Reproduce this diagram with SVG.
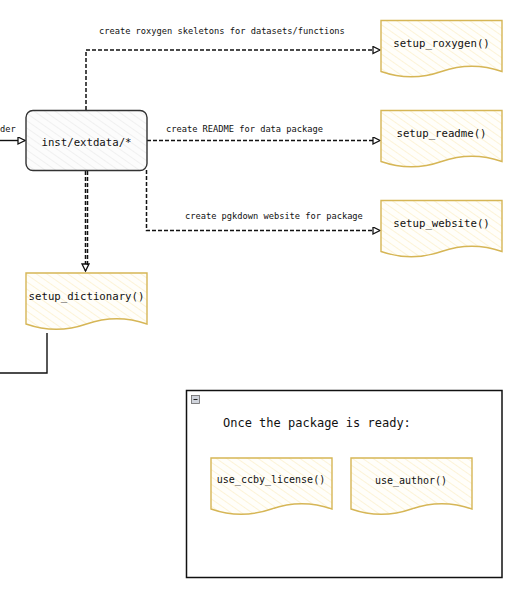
<svg xmlns="http://www.w3.org/2000/svg" width="532" height="615" viewBox="0 0 532 615">
<style>
text{font-family:"DejaVu Sans Mono","Liberation Mono",monospace;fill:#111}
.lbl{font-size:8.7px}
.nt{font-size:10.7px;text-anchor:middle}
.sm{font-size:10px;text-anchor:middle}
.doc{fill:url(#hy);stroke:#d6b656;stroke-width:1.4}
.dash{fill:none;stroke:#111;stroke-width:1.5;stroke-dasharray:4 2}
.solid{fill:none;stroke:#111;stroke-width:1.4}
</style>
<defs>
<pattern id="hy" width="6" height="6" patternUnits="userSpaceOnUse" patternTransform="rotate(-55)">
<rect width="6" height="6" fill="#fffefa"/>
<line x1="0" y1="0" x2="0" y2="6" stroke="#faecc0" stroke-width="1.2"/>
</pattern>
<pattern id="hg" width="6" height="6" patternUnits="userSpaceOnUse" patternTransform="rotate(-55)">
<rect width="6" height="6" fill="#fcfcfc"/>
<line x1="0" y1="0" x2="0" y2="6" stroke="#e4e4e4" stroke-width="1"/>
</pattern>
<marker id="ar" markerWidth="10" markerHeight="10" refX="8" refY="4" orient="auto" markerUnits="userSpaceOnUse">
<path d="M1,0.5 L8,4 L1,7.5 Z" fill="#fff" stroke="#111" stroke-width="1.3" stroke-dasharray="none"/>
</marker>
</defs>

<g id="connectors">
<path class="solid" d="M0,140.5 H25" marker-end="url(#ar)"/>
<text class="lbl" x="0" y="132">der</text>
<path class="dash" d="M86,110 V50 H380" marker-end="url(#ar)"/>
<text class="lbl" x="99" y="34">create roxygen skeletons for datasets/functions</text>
<path class="dash" d="M147,140.5 H380" marker-end="url(#ar)"/>
<text class="lbl" x="166" y="132">create README for data package</text>
<path class="dash" d="M146.5,170 V230.5 H380" marker-end="url(#ar)"/>
<text class="lbl" x="185" y="219">create pgkdown website for package</text>
<path class="dash" d="M85.5,171 V271" marker-end="url(#ar)"/>
<path class="dash" d="M87.5,171 V266" stroke-width="1"/>
<path class="solid" d="M47,333 V373 H0"/>
</g>

<g id="inst-extdata">
<rect x="26" y="110.5" width="121" height="60" rx="7" fill="url(#hg)" stroke="#333" stroke-width="1.4"/>
<text class="nt" x="86.5" y="146">inst/extdata/*</text>
</g>

<g id="setup-roxygen">
<path class="doc" d="M381,20.5 H502 V71.5 Q471.75,61 441.5,71.5 Q411.25,82 381,71.5 Z"/>
<text class="nt" x="441.5" y="47">setup_roxygen()</text>
</g>

<g id="setup-readme">
<path class="doc" d="M381,110.5 H502 V161.5 Q471.75,151 441.5,161.5 Q411.25,172 381,161.5 Z"/>
<text class="nt" x="441.5" y="137">setup_readme()</text>
</g>

<g id="setup-website">
<path class="doc" d="M381,200.5 H502 V251.5 Q471.75,241 441.5,251.5 Q411.25,262 381,251.5 Z"/>
<text class="nt" x="441.5" y="227">setup_website()</text>
</g>

<g id="setup-dictionary">
<path class="doc" d="M26,273 H147 V324 Q116.75,313.5 86.5,324 Q56.25,334.5 26,324 Z"/>
<text class="nt" x="86.5" y="300">setup_dictionary()</text>
</g>

<g id="package-ready">
<rect x="186.5" y="390.5" width="315.5" height="187" fill="#fff" stroke="#111" stroke-width="1.5"/>
<rect x="191.5" y="395.5" width="8" height="8" fill="#d0d4dc" stroke="#666" stroke-width="0.8"/>
<line x1="193.5" y1="399.5" x2="197.5" y2="399.5" stroke="#222" stroke-width="1"/>
<text x="223" y="427" style="font-size:12px">Once the package is ready:</text>
</g>

<g id="use-ccby-license">
<path class="doc" d="M211,458 H332 V509 Q301.75,498.5 271.5,509 Q241.25,519.5 211,509 Z"/>
<text class="sm" x="271" y="483">use_ccby_license()</text>
</g>

<g id="use-author">
<path class="doc" d="M351,458 H472 V509 Q441.75,498.5 411.5,509 Q381.25,519.5 351,509 Z"/>
<text class="sm" x="411" y="484">use_author()</text>
</g>
</svg>
